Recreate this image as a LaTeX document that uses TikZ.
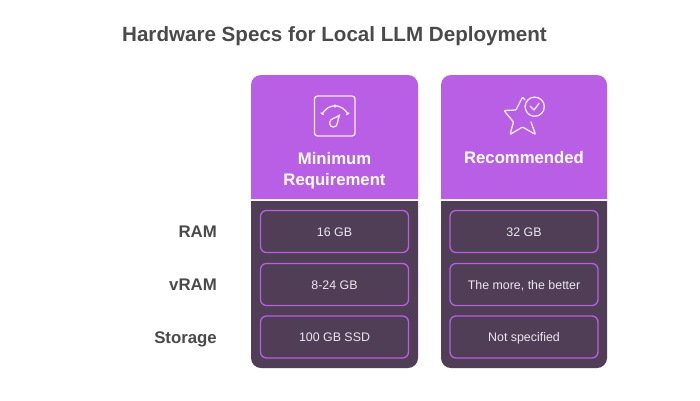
\documentclass[tikz,border=0pt]{standalone}
\usepackage{fontspec}
\usepackage{xcolor}
\setmainfont{Liberation Sans}
\definecolor{headcol}{HTML}{B95FE5}
\definecolor{bodycol}{HTML}{503D56}
\definecolor{textcol}{HTML}{4A4A4A}
\definecolor{celltext}{HTML}{EDE6F0}

\begin{document}
\begin{tikzpicture}[x=1pt, y=-1pt,
    cell/.style = {draw=headcol, line width=1.3pt, rounded corners=6pt, minimum width=148pt, minimum height=42pt, inner sep=0pt, text=celltext, text height=9pt, text depth=0pt, font=\fontsize{12.4}{14}\selectfont},
    rowlab/.style = {anchor=east, inner sep=0pt, text=textcol, text height=12pt, text depth=0pt, font=\fontsize{16.8}{19}\bfseries},
    headlab/.style = {text=white, align=center, font=\fontsize{16.7}{21}\bfseries},
    icon/.style = {draw=white!88!headcol, line width=1.3pt, line join=round, line cap=round}]
    \useasboundingbox (0,0) rectangle (700,400);
    \fill[white] (0,0) rectangle (700,400);
    \node (title) [text=textcol, font=\fontsize{20.6}{25}\bfseries] at (334.5,36.5) {Hardware Specs for Local LLM Deployment};

    % columns
    \fill[headcol, rounded corners=10pt] (251,199) -- (251,75) -- (418,75) -- (418,199);
    \fill[headcol, rounded corners=10pt] (441,199) -- (441,75) -- (607,75) -- (607,199);
    \fill[bodycol, rounded corners=10pt] (251,201) -- (251,368) -- (418,368) -- (418,201);
    \fill[bodycol, rounded corners=10pt] (441,201) -- (441,368) -- (607,368) -- (607,201);

    % gauge icon
    \draw[icon, rounded corners=3pt] (314.5,96) rectangle (355,136);
    \draw[icon] (322,114) .. controls (329,103) and (341,103) .. (348,114);
    \draw[icon] (335,105) -- (335,107);
    \draw[icon] (321,113) -- (323.5,114.5);
    \draw[icon] (349,113) -- (346.5,114.5);
    \draw[icon] (339.5,115) .. controls (337,118) and (329.5,118) .. (329.5,123) .. controls (329.5,128.5) and (337.5,128.5) .. (337.5,122.5) .. controls (338,120) and (338.5,118) .. (339.5,115);

    % star icon
    \draw[icon, rounded corners=1pt] (525,100) -- (522.5,97) -- (516,110) -- (504,110.5) -- (513.5,122) -- (510,134.5) -- (522.5,127) -- (535.5,134.5) -- (531,122);
    \draw[icon] (534.7,106.7) circle (9.6);
    \draw[icon] (530,106) -- (534,110) -- (539,103.5);

    \node (h1) [headlab] at (334.5,170.8) {Minimum\\Requirement};
    \node (h2) [headlab] at (524,158) {Recommended};

    \node (r1) [rowlab] at (217,231.5) {RAM};
    \node (r2) [rowlab] at (217,284.5) {vRAM};
    \node (r3) [rowlab] at (217,337) {Storage};

    \node[cell] (a1) at (334.5,231.5) {16 GB};
    \node[cell] (a2) at (334.5,284.5) {8-24 GB};
    \node[cell] (a3) at (334.5,337) {100 GB SSD};
    \node[cell] (b1) at (524,231.5) {32 GB};
    \node[cell] (b2) at (524,284.5) {The more, the better};
    \node[cell] (b3) at (524,337) {Not specified};
\end{tikzpicture}
\end{document}
